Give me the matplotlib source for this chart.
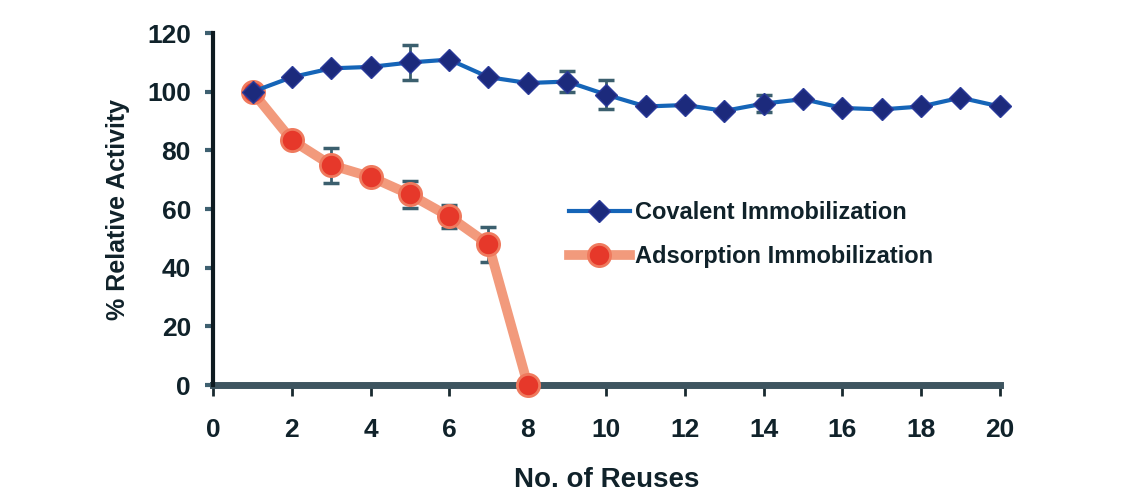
import numpy as np
import matplotlib
matplotlib.use("Agg")
import matplotlib.pyplot as plt

plt.rcParams['font.family'] = ['Liberation Sans', 'DejaVu Sans']
plt.rcParams['font.weight'] = 'bold'

# reuse cycles
reuses_cov = list(range(1, 21))
reuses_ads = list(range(1, 9))

# % relative activity for each immobilization method
covalent = [100, 105, 108, 108.5, 110, 111, 105, 103, 103.5, 99,
            95, 95.5, 93.5, 96, 97.5, 94.5, 94, 95, 98, 95]
covalent_err = [0, 0, 0, 0, 6, 0, 0, 0, 3.5, 5,
                0, 0, 0, 3, 0, 0, 0, 0, 0, 0]
adsorption = [100, 83.5, 75, 71, 65, 57.5, 48, 0]
adsorption_err = [0, 0, 6, 0, 4.5, 4, 6, 0]

labels = ['Covalent Immobilization', 'Adsorption Immobilization']

fig = plt.figure(figsize=(11.4, 4.95), dpi=100)
ax = fig.add_axes([0.187, 0.222, 0.69, 0.711])

# error bars first, then the series lines on top
ax.errorbar(reuses_cov, covalent, yerr=covalent_err, fmt='none',
            ecolor='#3b5f6e', elinewidth=2, capsize=6, capthick=2.5, zorder=3)
ax.errorbar(reuses_ads, adsorption, yerr=adsorption_err, fmt='none',
            ecolor='#3b5f6e', elinewidth=2, capsize=6, capthick=2.5, zorder=3)

ax.plot(reuses_ads, adsorption, color='#f29a7c', lw=7,
        marker='o', ms=16, mfc='#e6382a', mec='#ef7a5e', mew=2,
        label=labels[1], zorder=4, clip_on=False)
ax.plot(reuses_cov, covalent, color='#1565b8', lw=3,
        marker='D', ms=11, mfc='#1c2a7c', mec='#2a3a9a',
        label=labels[0], zorder=5, clip_on=False)

ax.set_xlim(0, 20)
ax.set_ylim(0, 120)
ax.set_xticks(np.arange(0, 21, 2))
ax.set_yticks(np.arange(0, 121, 20))

for side in ['top', 'right']:
    ax.spines[side].set_visible(False)
ax.spines['left'].set_linewidth(3)
ax.spines['left'].set_color('#0d1a20')
ax.spines['bottom'].set_linewidth(5)
ax.spines['bottom'].set_color('#3e5560')
ax.spines['bottom'].set_zorder(2)

ax.tick_params(axis='y', direction='out', length=6, width=3, color='#3e6070',
               labelsize=19, pad=10, labelcolor='#10222a')
ax.tick_params(axis='x', direction='out', length=8, width=2, color='#1a2a30',
               labelsize=19, pad=16, labelcolor='#10222a')
for lab in ax.get_xticklabels() + ax.get_yticklabels():
    lab.set_fontweight('bold')

ax.set_xlabel('No. of Reuses', fontsize=20, fontweight='bold',
              color='#10222a', labelpad=18)
ax.set_ylabel('% Relative Activity', fontsize=18, fontweight='bold',
              color='#10222a', labelpad=12)

handles, names = ax.get_legend_handles_labels()
leg = ax.legend(handles[::-1], names[::-1], loc='upper left',
                bbox_to_anchor=(0.44, 0.55), frameon=False,
                fontsize=17, handlelength=2.6, handletextpad=0.2,
                labelspacing=0.9, borderaxespad=0)
for t in leg.get_texts():
    t.set_color('#10222a')
    t.set_fontweight('bold')

fig.savefig('out.png', dpi=100, facecolor='white')
